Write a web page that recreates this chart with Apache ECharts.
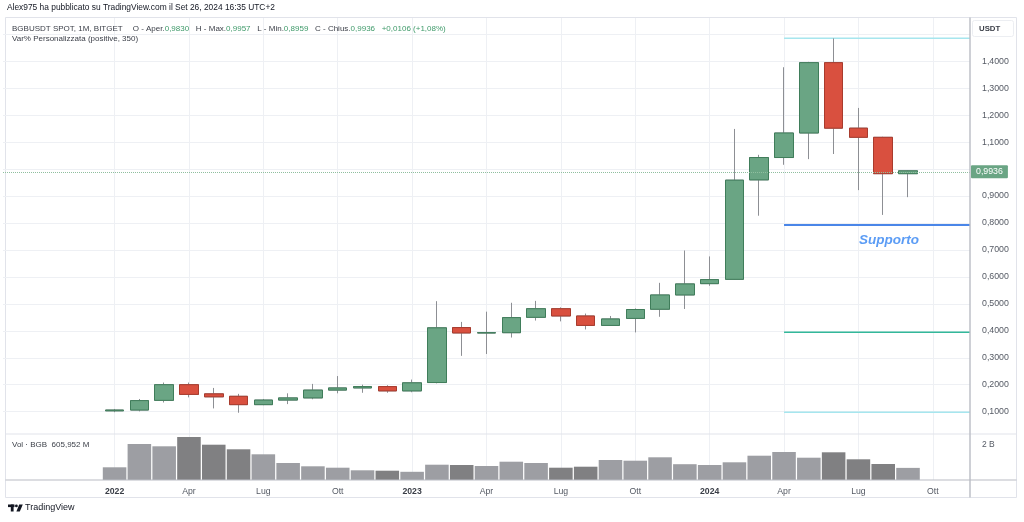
<!DOCTYPE html>
<html><head><meta charset="utf-8">
<script src="https://cdn.jsdelivr.net/npm/echarts@6/dist/echarts.min.js"></script>
<style>html,body{margin:0;padding:0;background:#fff}#c{width:1024px;height:522px}</style>
</head><body><div id="c"></div>
<script>
// ---- data ----
const months = ['2021-09','2021-10','2021-11','2021-12',
 '2022-01','2022-02','2022-03','2022-04','2022-05','2022-06','2022-07','2022-08','2022-09','2022-10','2022-11','2022-12',
 '2023-01','2023-02','2023-03','2023-04','2023-05','2023-06','2023-07','2023-08','2023-09','2023-10','2023-11','2023-12',
 '2024-01','2024-02','2024-03','2024-04','2024-05','2024-06','2024-07','2024-08','2024-09','2024-10','2024-11'];
const candleMonths = months.slice(4, 37);
const opens  = [0.103,0.106,0.142,0.200,0.166,0.157,0.126,0.143,0.151,0.180,0.188,0.193,
                0.177,0.208,0.412,0.392,0.393,0.450,0.482,0.455,0.420,0.446,0.480,0.533,
                0.575,0.591,0.960,1.043,1.134,1.395,1.152,1.118,0.9830];
const closes = [0.106,0.141,0.200,0.164,0.155,0.126,0.143,0.151,0.180,0.188,0.193,0.177,
                0.207,0.411,0.392,0.393,0.449,0.482,0.455,0.420,0.444,0.479,0.533,0.574,
                0.590,0.959,1.043,1.134,1.395,1.152,1.118,0.983,0.9936];
const highs  = [0.110,0.147,0.208,0.208,0.188,0.166,0.147,0.168,0.203,0.232,0.200,0.198,
                0.219,0.510,0.433,0.471,0.504,0.511,0.487,0.464,0.455,0.483,0.578,0.698,
                0.676,1.149,1.053,1.378,1.398,1.485,1.227,1.120,0.9957];
const lows   = [0.098,0.101,0.134,0.153,0.112,0.096,0.124,0.128,0.146,0.168,0.170,0.170,
                0.172,0.205,0.307,0.314,0.375,0.438,0.435,0.405,0.418,0.394,0.452,0.481,
                0.567,0.589,0.827,1.016,1.037,1.056,0.922,0.830,0.8959];
const volumes = [0.635,1.800,1.685,2.150,1.765,1.535,1.285,0.850,0.685,0.615,0.485,0.465,
                 0.410,0.765,0.750,0.700,0.915,0.850,0.615,0.665,1.000,0.965,1.135,0.790,
                 0.750,0.885,1.215,1.400,1.115,1.385,1.035,0.800,0.605952].map(v => v * 1e9);
const levelStart = '2024-04';
const levels = [1.4853, 0.7926, 0.3944, 0.0976];
const levelColors = ['#a6e6ee', '#4a86e8', '#33b89a', '#a6e6ee'];
const monthNames = {'01': null, '04': 'Apr', '07': 'Lug', '10': 'Ott'};

// ---- helpers ----
const FONT = 'Liberation Sans, Arial, sans-serif';
const fmt4 = v => v.toFixed(4).replace('.', ',');
const isQuarter = name => name >= '2022' && ['01','04','07','10'].includes(name.slice(5));
const wickData = candleMonths.map((m, i) => [m, opens[i], closes[i], lows[i], highs[i]]);
const bodyData = candleMonths.map((m, i) => [m, opens[i], closes[i], Math.min(opens[i], closes[i]), Math.max(opens[i], closes[i])]);
const volData = candleMonths.map((m, i) => ({
  value: [m, volumes[i]],
  itemStyle: { color: closes[i] >= opens[i] ? '#9d9ea3' : '#808082' }
}));
const n = opens.length - 1;
const lastO = opens[n], lastH = highs[n], lastL = lows[n], lastC = closes[n];
const chg = lastC - lastO;
const chgPct = chg / lastO * 100;

const GREEN = '#6aa584', GREEN_B = '#3f7d5a', RED = '#d9503f', RED_B = '#a93b2d', WICK = '#8d8f94';

const chart = echarts.init(document.getElementById('c'), null, { renderer: 'canvas' });
const gridLineColor = '#eef0f4';

const option = {
  animation: false,
  backgroundColor: '#ffffff',
  textStyle: { fontFamily: FONT },
  grid: [
    { left: 3, width: 967, top: 18, height: 420.6 },
    { left: 3, width: 967, top: 434, height: 46 }
  ],
  xAxis: [
    { type: 'category', gridIndex: 0, data: months, boundaryGap: true,
      axisLine: { show: false }, axisTick: { show: false }, axisLabel: { show: false },
      splitLine: { show: true, alignWithLabel: true, interval: (i, v) => isQuarter(v), lineStyle: { color: gridLineColor, width: 1 } } },
    { type: 'category', gridIndex: 1, data: months, boundaryGap: true,
      axisLine: { show: false }, axisTick: { show: false },
      splitLine: { show: true, alignWithLabel: true, interval: (i, v) => isQuarter(v), lineStyle: { color: gridLineColor, width: 1 } },
      axisLabel: {
        interval: (i, v) => isQuarter(v), margin: 7, fontSize: 8.7, color: '#555a64', fontFamily: FONT,
        formatter: v => { const mm = v.slice(5); return mm === '01' ? '{b|' + v.slice(0, 4) + '}' : monthNames[mm]; },
        rich: { b: { fontWeight: 'bold', fontSize: 8.7, color: '#3a3e47', fontFamily: FONT } }
      } }
  ],
  yAxis: [
    { type: 'value', gridIndex: 0, position: 'right', min: 0, max: 1.5607, interval: 0.1,
      axisLine: { show: false }, axisTick: { show: false },
      splitLine: { show: true, showMinLine: false, showMaxLine: false, lineStyle: { color: gridLineColor, width: 1 } },
      axisLabel: { margin: 12, fontSize: 8.8, color: '#555a64', fontFamily: FONT,
        formatter: v => { const k = Math.round(v * 10); return (Math.abs(v * 10 - k) < 1e-6 && k >= 1 && k <= 14 && k !== 10) ? fmt4(v) : ''; } } },
    { type: 'value', gridIndex: 1, position: 'right', min: 0, max: 2.3e9, interval: 1e9,
      axisLine: { show: false }, axisTick: { show: false }, splitLine: { show: false },
      axisLabel: { margin: 12, fontSize: 8.5, color: '#555a64', fontFamily: FONT, verticalAlign: 'top',
        formatter: v => v === 2e9 ? '2 B' : '' } }
  ],
  series: [
    { type: 'candlestick', name: 'wick', xAxisIndex: 0, yAxisIndex: 0, data: wickData,
      encode: { x: 0, y: [1, 2, 3, 4] }, barWidth: 19,
      itemStyle: { color: GREEN, color0: RED, borderColor: WICK, borderColor0: WICK, borderColorDoji: WICK, borderWidth: 1 } },
    { type: 'candlestick', name: 'body', xAxisIndex: 0, yAxisIndex: 0, data: bodyData,
      encode: { x: 0, y: [1, 2, 3, 4] }, barWidth: 19, z: 3,
      itemStyle: { color: GREEN, color0: RED, borderColor: GREEN_B, borderColor0: RED_B, borderColorDoji: GREEN_B, borderWidth: 1 },
      markLine: { silent: true, symbol: 'none', animation: false,
        lineStyle: { type: 'dotted', color: '#8fbf9f', width: 1 },
        label: { show: true, position: 'end', distance: 1, formatter: fmt4(lastC), backgroundColor: GREEN, color: '#ffffff',
                 fontSize: 8.8, fontFamily: FONT, padding: [2, 5, 2, 5], borderRadius: 1 },
        data: [{ yAxis: lastC }] },
      markArea: { silent: true, animation: false,
        data: levels.map((v, i) => [
          { xAxis: levelStart, yAxis: v,
            itemStyle: { color: 'rgba(0,0,0,0)', borderColor: levelColors[i], borderWidth: i === 1 ? 2 : 1.5 },
            label: i === 1 ? { show: true, position: 'bottom', distance: 7, offset: [12, 0], formatter: 'Supporto',
                               fontSize: 13.5, fontWeight: 'bold', fontStyle: 'italic', color: '#5b9cf5', fontFamily: FONT }
                           : { show: false } },
          { yAxis: v }
        ]) } },
    { type: 'bar', name: 'vol', xAxisIndex: 1, yAxisIndex: 1, data: volData, barWidth: '95%', z: 2 }
  ],
  graphic: [
    { type: 'rect', z: -1, shape: { x: 5.5, y: 17.5, width: 1011, height: 480 }, style: { fill: 'none', stroke: '#e1e3ea', lineWidth: 1 } },
    { type: 'line', z: 10, shape: { x1: 5.5, y1: 434, x2: 1016.5, y2: 434 }, style: { stroke: '#e1e3ea', lineWidth: 1 } },
    { type: 'line', z: 10, shape: { x1: 5.5, y1: 480, x2: 1016.5, y2: 480 }, style: { stroke: '#b9bcc4', lineWidth: 1.2 } },
    { type: 'line', z: 10, shape: { x1: 970, y1: 17.5, x2: 970, y2: 497.5 }, style: { stroke: '#b9bcc4', lineWidth: 1.4 } },
    { type: 'rect', z: 11, shape: { x: 972.5, y: 20.5, width: 41, height: 16, r: 2 }, style: { fill: '#ffffff', stroke: '#eceef2', lineWidth: 1 } },
    { type: 'text', z: 12, left: 979, top: 24.5, style: { text: 'USDT', font: '600 7.8px ' + FONT, fill: '#3a3e47' } },
    { type: 'text', z: 12, left: 7, top: 3.5, style: { text: 'Alex975 ha pubblicato su TradingView.com il Set 26, 2024 16:35 UTC+2', font: '8.4px ' + FONT, fill: '#131722' } },
    { type: 'text', z: 12, left: 12, top: 22.5, style: {
        text: '{d|BGBUSDT SPOT, 1M, BITGET}   {d|O - Aper.}{g|' + fmt4(lastO) + '}  {d|H - Max.}{g|' + fmt4(lastH) + '}  {d|L - Min.}{g|' + fmt4(lastL) +
              '}  {d|C - Chius.}{g|' + fmt4(lastC) + '}  {g|+' + fmt4(chg) + ' (+' + chgPct.toFixed(2).replace('.', ',') + '%)}',
        rich: { d: { font: '8px ' + FONT, fill: '#3a3e47' }, g: { font: '8px ' + FONT, fill: '#3f9a6a' } } } },
    { type: 'text', z: 12, left: 12, top: 35, style: { text: 'Var% Personalizzata (positive, 350)', font: '8px ' + FONT, fill: '#3a3e47' } },
    { type: 'text', z: 12, left: 12, top: 440.5, style: { text: 'Vol · BGB  ' + (volumes[n] / 1e6).toFixed(3).replace('.', ',') + ' M', font: '8px ' + FONT, fill: '#3a3e47' } },
    { type: 'rect', z: 12, shape: { x: 8, y: 504.5, width: 6.5, height: 2.6 }, style: { fill: '#131722' } },
    { type: 'rect', z: 12, shape: { x: 10.8, y: 504.5, width: 2.8, height: 7 }, style: { fill: '#131722' } },
    { type: 'circle', z: 12, shape: { cx: 16.4, cy: 505.9, r: 1.4 }, style: { fill: '#131722' } },
    { type: 'polygon', z: 12, shape: { points: [[19.2, 504.5], [22.8, 504.5], [19.8, 511.5], [16.4, 511.5]] }, style: { fill: '#131722' } },
    { type: 'text', z: 12, left: 25, top: 503, style: { text: 'TradingView', font: '9px ' + FONT, fill: '#131722' } }
  ]
};
chart.setOption(option);
</script></body></html>
